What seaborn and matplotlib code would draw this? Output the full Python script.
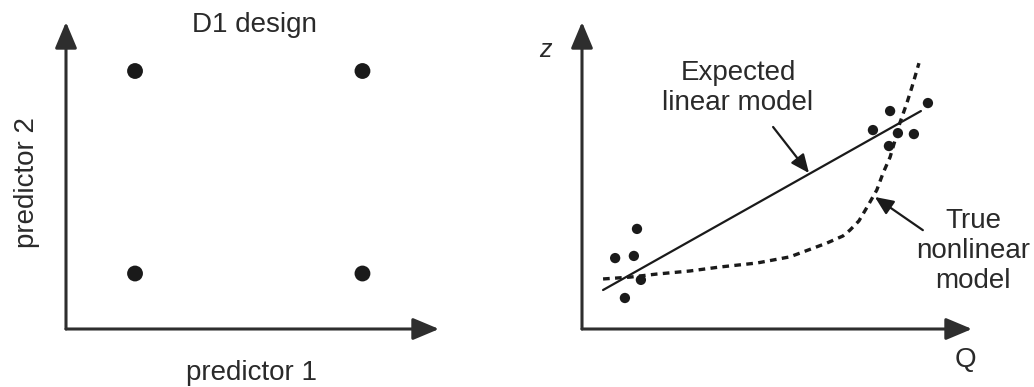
import seaborn as sns
import matplotlib.pyplot as plt
import pandas as pd

# left panel: D1 design corner points
pred1 = [-1, 1, -1, 1]
pred2 = [1, 1, -1, -1]

# right panel: observations
obs_q = [0.85, 1.33, 1.41, 1.51, 1.10, 7.46, 7.90, 7.87, 8.10, 8.51, 8.87]
obs_z = [2.31, 2.38, 3.26, 1.60, 1.01, 6.48, 7.10, 5.96, 6.38, 6.35, 7.36]

# expected linear model (end points)
lin_q = [0.54, 8.69]
lin_z = [1.27, 7.10]

# true nonlinear model
true_q = [0.54, 1.23, 1.92, 2.77, 3.54, 4.49, 5.33, 6.28, 6.69, 6.87, 7.10,
          7.31, 7.56, 7.72, 7.90, 8.03, 8.15, 8.33, 8.46, 8.64]
true_z = [1.63, 1.69, 1.79, 1.89, 2.02, 2.15, 2.35, 2.80, 3.03, 3.22, 3.52,
          3.97, 4.53, 5.08, 5.60, 6.16, 6.71, 7.36, 7.88, 8.66]

sns.set_style("white")
plt.rcParams['font.family'] = ['Liberation Sans', 'DejaVu Sans']

ink = "#1a1a1a"
axis_col = "#2e2e2e"
txt = "#2a2a2a"
fs = 20

fig = plt.figure(figsize=(10.34, 3.87), dpi=100)
ax1 = fig.add_axes([66 / 1034, 58 / 387, 373 / 1034, 307 / 387])
ax2 = fig.add_axes([582 / 1034, 58 / 387, 390 / 1034, 307 / 387])


def draw_axes(ax):
    for s in ax.spines.values():
        s.set_visible(False)
    ax.set_xticks([])
    ax.set_yticks([])
    ax.set_xlabel("")
    ax.set_ylabel("")
    ax.patch.set_alpha(0)
    arrow = dict(arrowstyle="-|>,head_length=1.0,head_width=0.42", color=axis_col,
                 lw=2.2, shrinkA=0, shrinkB=0, mutation_scale=16)
    ax.annotate("", xy=(1, 0), xytext=(0, 0), xycoords="axes fraction",
                arrowprops=arrow, annotation_clip=False)
    ax.annotate("", xy=(0, 1), xytext=(0, 0), xycoords="axes fraction",
                arrowprops=arrow, annotation_clip=False)


# ---- left: D1 design
df1 = pd.DataFrame({"p1": pred1, "p2": pred2})
sns.scatterplot(data=df1, x="p1", y="p2", ax=ax1, color=ink, s=130,
                edgecolor="none", legend=False)
ax1.set_xlim(-1.607, 1.673)
ax1.set_ylim(-1.548, 1.484)
draw_axes(ax1)
ax1.text(0.504, 0.99, "D1 design", transform=ax1.transAxes, ha="center",
         va="center", fontsize=fs, color=txt)
ax1.text(-0.105, 0.476, "predictor 2", transform=ax1.transAxes, ha="center",
         va="center", rotation=90, fontsize=fs, color=txt)
ax1.text(0.496, -0.143, "predictor 1", transform=ax1.transAxes, ha="center",
         va="center", fontsize=fs, color=txt)

# ---- right: linear vs nonlinear model
df_obs = pd.DataFrame({"Q": obs_q, "z": obs_z})
df_lin = pd.DataFrame({"Q": lin_q, "z": lin_z})
df_true = pd.DataFrame({"Q": true_q, "z": true_z})

sns.lineplot(data=df_lin, x="Q", y="z", ax=ax2, color=ink, lw=1.6, sort=False)
sns.lineplot(data=df_true, x="Q", y="z", ax=ax2, color=ink, lw=2.4, sort=False,
             linestyle=(0, (2.0, 1.6)))
sns.scatterplot(data=df_obs, x="Q", y="z", ax=ax2, color=ink, s=55,
                edgecolor="none", legend=False, zorder=3)
ax2.set_xlim(0, 10)
ax2.set_ylim(0, 10)
draw_axes(ax2)

ax2.text(-0.95, 9.09, "z", style="italic", ha="center", va="center",
         fontsize=fs - 2, color=txt)
ax2.text(9.82, -1.01, "Q", ha="center", va="center", fontsize=fs, color=txt)

pointer = dict(arrowstyle="-|>,head_length=0.8,head_width=0.35", color=ink,
               lw=1.6, shrinkA=0, shrinkB=0, mutation_scale=14)
ax2.annotate("", xy=(5.82, 5.08), xytext=(4.90, 6.58), arrowprops=pointer)
ax2.annotate("", xy=(7.51, 4.30), xytext=(8.74, 3.22), arrowprops=pointer)
ax2.text(4.0, 7.85, "Expected\nlinear model", ha="center", va="center",
         fontsize=fs, color=txt, linespacing=1.2)
ax2.text(10.03, 2.54, "True\nnonlinear\nmodel", ha="center", va="center",
         fontsize=fs, color=txt, linespacing=1.2, clip_on=False)

fig.savefig("out.png", dpi=100)
